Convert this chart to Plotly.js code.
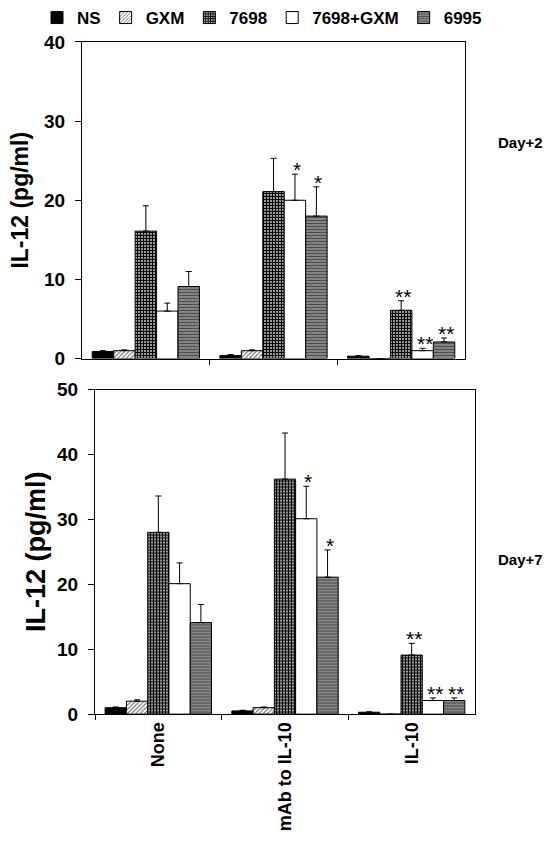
<!DOCTYPE html>
<html>
<head>
<meta charset="utf-8">
<script src="https://cdn.plot.ly/plotly-3.0.1.min.js"></script>
<style>html,body{margin:0;padding:0;background:#fff;}#chart{width:552px;height:844px;}</style>
</head>
<body>
<div id="chart"></div>
<script>
// ---- data ----
const categories = ["None", "mAb to IL-10", "IL-10"];
const seriesNames = ["NS", "GXM", "7698", "7698+GXM", "6995"];

// Day+2 (top panel) means
const day2_NS      = [0.9, 0.4, 0.3];
const day2_GXM     = [1.0, 1.0, 0.0];
const day2_7698    = [16.1, 21.1, 6.1];
const day2_7698GXM = [6.0, 20.0, 1.0];
const day2_6995    = [9.1, 18.0, 2.1];
// Day+2 upper error bars
const day2Err_NS      = [0.1, 0.1, 0.05];
const day2Err_GXM     = [0.1, 0.1, 0.0];
const day2Err_7698    = [3.2, 4.2, 1.2];
const day2Err_7698GXM = [1.0, 3.3, 0.3];
const day2Err_6995    = [1.9, 3.7, 0.5];
// Day+2 significance marks
const day2Sig_7698    = ["", "", "**"];
const day2Sig_7698GXM = ["", "*", "**"];
const day2Sig_6995    = ["", "*", "**"];

// Day+7 (bottom panel) means
const day7_NS      = [1.0, 0.5, 0.3];
const day7_GXM     = [2.0, 1.0, 0.0];
const day7_7698    = [28.0, 36.2, 9.1];
const day7_7698GXM = [20.1, 30.1, 2.1];
const day7_6995    = [14.1, 21.1, 2.1];
// Day+7 upper error bars
const day7Err_NS      = [0.1, 0.1, 0.05];
const day7Err_GXM     = [0.2, 0.1, 0.0];
const day7Err_7698    = [5.6, 7.1, 1.8];
const day7Err_7698GXM = [3.2, 5.0, 0.4];
const day7Err_6995    = [2.8, 4.2, 0.4];
// Day+7 significance marks
const day7Sig_7698    = ["", "", "**"];
const day7Sig_7698GXM = ["", "*", "**"];
const day7Sig_6995    = ["", "*", "**"];

// ---- styles ----
const FONT = "Arial, 'Liberation Sans', sans-serif";
const barStyles = [
  {color: "#000000", pattern: {shape: ""}},
  {color: "#ffffff", pattern: {shape: "/", fgcolor: "#666666", bgcolor: "#ffffff", size: 3, solidity: 0.35}},
  {color: "#ffffff", pattern: {shape: "+", fgcolor: "#000000", bgcolor: "#ffffff", size: 3, solidity: 0.7}},
  {color: "#ffffff", pattern: {shape: ""}},
  {color: "#808080", pattern: {shape: "-", fgcolor: "#4a4a4a", bgcolor: "#8c8c8c", size: 3, solidity: 0.4}}
];
const BARGAP = 0.16;
const barW = (1 - BARGAP) / seriesNames.length;
const xIdx = categories.map((c, i) => i);

function makeTraces(valsList, errsList, xa, ya, showLegend) {
  return valsList.map((vals, s) => ({
    type: "bar",
    name: seriesNames[s],
    x: xIdx,
    y: vals,
    xaxis: xa, yaxis: ya,
    showlegend: showLegend,
    legendgroup: seriesNames[s],
    marker: {
      color: barStyles[s].color,
      pattern: barStyles[s].pattern,
      line: {color: "#000", width: 1}
    },
    error_y: {
      type: "data", symmetric: false,
      array: errsList[s], arrayminus: vals.map(() => 0),
      color: "#000", thickness: 1, width: 3
    },
    hoverinfo: "skip"
  }));
}

const topVals = [day2_NS, day2_GXM, day2_7698, day2_7698GXM, day2_6995];
const topErrs = [day2Err_NS, day2Err_GXM, day2Err_7698, day2Err_7698GXM, day2Err_6995];
const botVals = [day7_NS, day7_GXM, day7_7698, day7_7698GXM, day7_6995];
const botErrs = [day7Err_NS, day7Err_GXM, day7Err_7698, day7Err_7698GXM, day7Err_6995];

const traces = makeTraces(topVals, topErrs, "x", "y", true)
  .concat(makeTraces(botVals, botErrs, "x2", "y2", false));

function sigAnnots(sigs, seriesIdx, vals, errs, xr, yr) {
  const out = [];
  sigs.forEach((sig, k) => {
    const s = seriesIdx[k];
    sig.forEach((t, i) => {
      if (!t) return;
      out.push({
        xref: xr, yref: yr,
        x: i + (s - 2) * barW, y: vals[s][i] + errs[s][i],
        text: t, showarrow: false, yanchor: "bottom", yshift: -9, xshift: 2,
        font: {family: FONT, size: 21, color: "#000000"}
      });
    });
  });
  return out;
}

const annotations = []
  .concat(sigAnnots([day2Sig_7698, day2Sig_7698GXM, day2Sig_6995], [2, 3, 4], topVals, topErrs, "x", "y"))
  .concat(sigAnnots([day7Sig_7698, day7Sig_7698GXM, day7Sig_6995], [2, 3, 4], botVals, botErrs, "x2", "y2"))
  .concat([
    {xref: "paper", yref: "paper", x: 496/552, y: 1 - 142/844, xanchor: "left", yanchor: "middle",
     text: "Day+2", showarrow: false, font: {family: FONT, size: 15, color: "#000", weight: "bold"}},
    {xref: "paper", yref: "paper", x: 496/552, y: 1 - 559/844, xanchor: "left", yanchor: "middle",
     text: "Day+7", showarrow: false, font: {family: FONT, size: 15, color: "#000", weight: "bold"}}
  ]);

const yTickFont = {family: FONT, size: 19, color: "#000", weight: "bold"};

const layout = {
  width: 552, height: 844,
  margin: {l: 0, r: 0, t: 0, b: 0},
  paper_bgcolor: "#fff", plot_bgcolor: "#fff",
  barmode: "group", bargap: BARGAP, bargroupgap: 0,
  showlegend: true,
  legend: {
    orientation: "h", x: 262/552, xanchor: "center", y: 1 - 17/844, yanchor: "middle",
    font: {family: FONT, size: 17, color: "#000", weight: "bold"},
    itemwidth: 30, traceorder: "normal", bgcolor: "rgba(0,0,0,0)"
  },
  xaxis: {
    domain: [82/552, 465/552], anchor: "y",
    range: [-0.5, 2.5], showticklabels: false, ticks: "", showgrid: false, zeroline: false,
    showline: true, linecolor: "#000", linewidth: 1, mirror: true,
    minor: {tickmode: "array", tickvals: [0.5, 1.5], ticks: "outside", ticklen: 5, tickcolor: "#000", showgrid: false}
  },
  yaxis: {
    domain: [1 - 358/844, 1 - 41/844], anchor: "x",
    range: [0, 40], dtick: 10, tick0: 0, showgrid: false, zeroline: false,
    ticks: "outside", ticklen: 6, tickcolor: "#000", ticklabelstandoff: 6,
    showline: true, linecolor: "#000", linewidth: 1, mirror: true,
    tickfont: yTickFont,
    title: {text: "IL-12 (pg/ml)", standoff: 8, font: {family: FONT, size: 23, color: "#000", weight: "bold"}}
  },
  xaxis2: {
    domain: [95/552, 475/552], anchor: "y2",
    range: [-0.5, 2.5], tickmode: "array", tickvals: xIdx, ticktext: categories,
    tickangle: -90, ticks: "", ticklabelstandoff: 0, showgrid: false, zeroline: false,
    tickfont: {family: FONT, size: 18, color: "#000", weight: "bold"},
    showline: true, linecolor: "#000", linewidth: 1, mirror: true,
    minor: {tickmode: "array", tickvals: [-0.5, 0.5, 1.5], ticks: "outside", ticklen: 5, tickcolor: "#000", showgrid: false}
  },
  yaxis2: {
    domain: [1 - 714/844, 1 - 389/844], anchor: "x2",
    range: [0, 50], dtick: 10, tick0: 0, showgrid: false, zeroline: false,
    ticks: "outside", ticklen: 6, tickcolor: "#000", ticklabelstandoff: 6,
    showline: true, linecolor: "#000", linewidth: 1, mirror: true,
    tickfont: yTickFont,
    title: {text: "IL-12 (pg/ml)", standoff: 3, font: {family: FONT, size: 27, color: "#000", weight: "bold"}}
  },
  annotations: annotations
};

Plotly.newPlot("chart", traces, layout, {staticPlot: true, displayModeBar: false});
</script>
</body>
</html>
